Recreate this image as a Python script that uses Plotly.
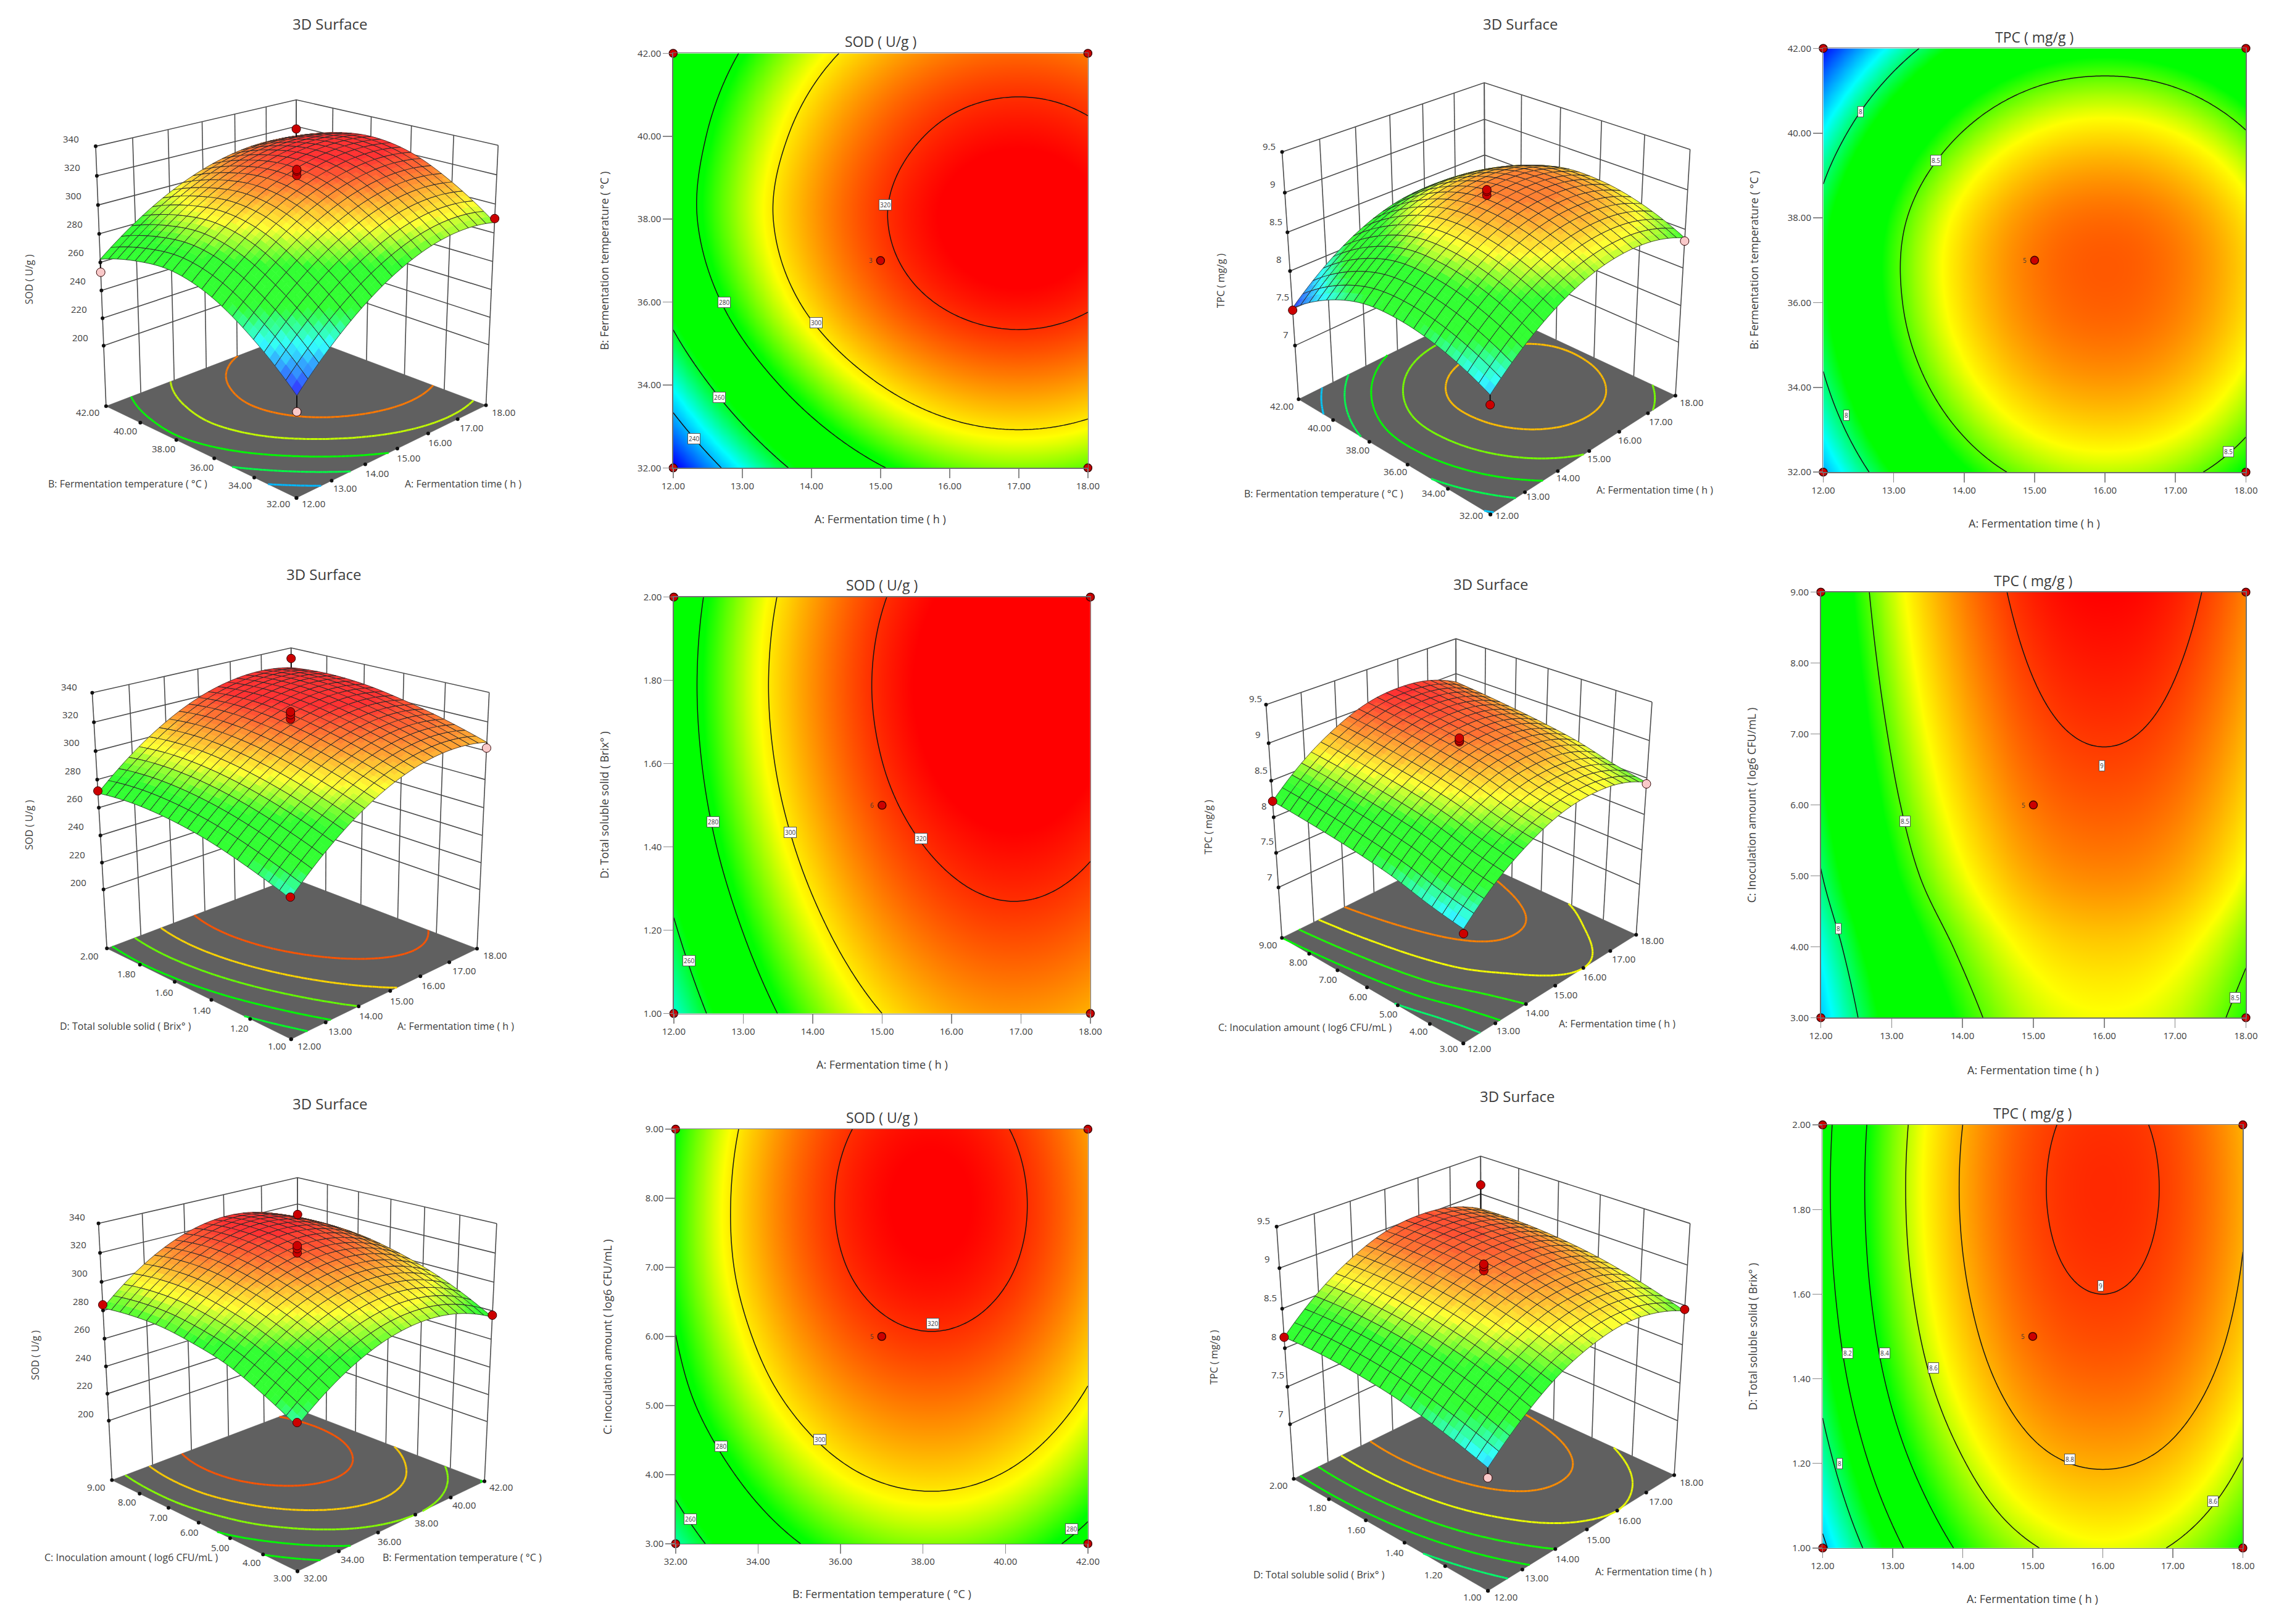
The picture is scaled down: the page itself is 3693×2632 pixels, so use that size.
import numpy as np
import plotly.graph_objects as go

W = 3693
H = 2632

A_TIME = [12, 13, 14, 15, 16, 17, 18]
B_TEMP = [32, 34, 36, 38, 40, 42]
C_INOC = [3, 4, 5, 6, 7, 8, 9]
D_BRIX = [1.0, 1.2, 1.4, 1.6, 1.8, 2.0]

SOD_TICKS = [200, 220, 240, 260, 280, 300, 320, 340]
TPC_TICKS = [7, 7.5, 8, 8.5, 9, 9.5]

SOD_AB = [
    [222.5, 246.8, 265.7, 279.2, 287.3, 290.0, 287.3],
    [247.5, 270.0, 287.5, 300.0, 307.5, 310.0, 307.5],
    [264.8, 286.0, 302.5, 314.2, 321.2, 323.6, 321.2],
    [272.5, 292.5, 308.0, 319.1, 325.8, 328.0, 325.8],
    [270.2, 289.6, 304.6, 315.4, 321.9, 324.0, 321.9],
    [262.2, 280.9, 295.4, 305.7, 311.9, 314.0, 311.9],
]
SOD_AD = [
    [249.0, 271.0, 288.0, 300.0, 307.0, 309.0, 306.0],
    [258.7, 280.3, 296.9, 308.7, 315.5, 317.5, 314.5],
    [266.4, 287.5, 303.8, 315.4, 322.0, 324.0, 321.0],
    [270.9, 292.0, 308.3, 319.9, 326.6, 328.5, 325.6],
    [272.4, 293.5, 309.8, 321.4, 328.0, 330.0, 327.0],
    [270.4, 291.5, 307.8, 319.4, 326.0, 328.0, 325.0],
]
SOD_BC = [
    [251.6, 272.4, 285.2, 290.0, 286.8, 275.6],
    [264.3, 285.0, 297.9, 302.7, 299.5, 288.3],
    [274.3, 294.7, 307.3, 312.0, 308.8, 297.8],
    [279.9, 301.3, 314.5, 319.5, 316.2, 304.6],
    [283.4, 305.6, 319.3, 324.5, 321.0, 309.0],
    [283.7, 306.6, 320.7, 326.0, 322.4, 310.1],
    [281.7, 304.6, 318.7, 324.0, 320.4, 308.1],
]
TPC_AB = [
    [7.74, 8.12, 8.39, 8.55, 8.60, 8.55, 8.39],
    [7.97, 8.35, 8.62, 8.78, 8.83, 8.78, 8.62],
    [8.08, 8.46, 8.73, 8.89, 8.94, 8.89, 8.73],
    [8.06, 8.44, 8.71, 8.87, 8.92, 8.87, 8.71],
    [7.86, 8.24, 8.51, 8.67, 8.72, 8.67, 8.51],
    [7.51, 7.89, 8.16, 8.32, 8.37, 8.32, 8.16],
]
TPC_AC = [
    [7.78, 8.17, 8.44, 8.61, 8.66, 8.61, 8.44],
    [7.87, 8.26, 8.53, 8.70, 8.75, 8.70, 8.53],
    [7.99, 8.38, 8.65, 8.82, 8.87, 8.82, 8.65],
    [8.07, 8.46, 8.73, 8.90, 8.95, 8.90, 8.73],
    [8.13, 8.52, 8.79, 8.96, 9.01, 8.96, 8.79],
    [8.18, 8.57, 8.84, 9.01, 9.06, 9.01, 8.84],
    [8.22, 8.61, 8.88, 9.05, 9.10, 9.05, 8.88],
]
TPC_AD = [
    [7.77, 8.15, 8.43, 8.59, 8.65, 8.59, 8.43],
    [7.93, 8.32, 8.59, 8.76, 8.81, 8.76, 8.59],
    [8.05, 8.44, 8.71, 8.88, 8.93, 8.88, 8.71],
    [8.12, 8.51, 8.78, 8.95, 9.00, 8.95, 8.78],
    [8.15, 8.54, 8.81, 8.98, 9.03, 8.98, 8.81],
    [8.14, 8.53, 8.80, 8.97, 9.02, 8.97, 8.80],
]

# design points: corners (lo,lo) (lo,hi) (hi,lo) (hi,hi), then the centre repeats
SOD_AB_CORNERS = [212, 253, 290, 318]
SOD_AB_CENTER = [320, 323, 324]
SOD_AD_CORNERS = [250, 272, 302, 332]
SOD_AD_CENTER = [322, 325, 327]
SOD_BC_CORNERS = [254, 284, 277, 312]
SOD_BC_CENTER = [320, 323, 325]
TPC_AB_CORNERS = [7.62, 7.48, 8.35, 8.15]
TPC_AB_CENTER = [8.95, 9.0, 9.02]
TPC_AC_CORNERS = [7.72, 8.22, 8.42, 8.85]
TPC_AC_CENTER = [9.0, 9.02, 9.05]
TPC_AD_CORNERS = [7.65, 8.14, 8.45, 9.12]
TPC_AD_CENTER = [8.95, 9.0, 9.03]

# contour levels drawn on the floor of each 3D view
SOD_AB_FLOOR = [240, 258, 276, 294, 312]
SOD_AD_FLOOR = [260, 274, 288, 302, 316]
SOD_BC_FLOOR = [264, 277, 290, 303, 316]
TPC_AB_FLOOR = [7.78, 8.03, 8.28, 8.53, 8.78]
TPC_AC_FLOOR = [8.0, 8.22, 8.44, 8.66, 8.88]
TPC_AD_FLOOR = [8.0, 8.22, 8.43, 8.65, 8.86]

SOD_AB_LABELS = [(15.07, 38.35, "320"), (14.07, 35.5, "300"), (12.74, 36.0, "280"), (12.67, 33.7, "260"), (12.3, 32.7, "240")]
SOD_AD_LABELS = [(15.56, 1.42, "320"), (13.68, 1.435, "300"), (12.57, 1.46, "280"), (12.22, 1.126, "260")]
SOD_BC_LABELS = [(38.24, 6.19, "320"), (35.5, 4.51, "300"), (33.1, 4.41, "280"), (32.36, 3.36, "260"), (41.6, 3.21, "280")]
TPC_AB_LABELS = [(12.53, 40.5, "8"), (13.6, 39.35, "8.5"), (12.33, 33.35, "8"), (17.75, 32.48, "8.5")]
TPC_AC_LABELS = [(13.19, 5.77, "8.5"), (15.97, 6.55, "9"), (12.25, 4.26, "8"), (17.85, 3.28, "8.5")]
TPC_AD_LABELS = [(12.36, 1.46, "8.2"), (12.89, 1.46, "8.4"), (13.58, 1.425, "8.6"), (15.97, 1.62, "9"),
                 (15.53, 1.21, "8.8"), (12.24, 1.2, "8"), (17.57, 1.11, "8.6")]

A_TITLE = "A: Fermentation time ( h )"
B_TITLE = "B: Fermentation temperature ( °C )"
C_TITLE = "C: Inoculation amount ( log6 CFU/mL )"
D_TITLE = "D: Total soluble solid ( Brix° )"
SOD_TITLE = "SOD ( U/g )"
TPC_TITLE = "TPC ( mg/g )"

FONT = "Open Sans"
TEXT = "#3c3c3c"
RAMP = [(0, (0, 0, 255)), (0.22, (0, 255, 255)), (0.38, (0, 255, 0)), (0.57, (0, 255, 0)), (0.73, (255, 255, 0)), (1, (255, 0, 0))]
RAMP_CSS = [[s, "rgb(%d,%d,%d)" % c] for s, c in RAMP]
RED = "#cc0000"
PINK = "#f9c9c9"
FLOOR = "#606060"

SOD_STYLE = dict(cmin=224, cmax=325, zrange=(155, 340), zticks=SOD_TICKS)
TPC_STYLE = dict(cmin=7.5, cmax=9.1, zrange=(6.25, 9.5), zticks=TPC_TICKS)

# the box corners of each 3D view on the page: front, left, right (floor), then back, left, right (top)
panels = [
    dict(x=A_TIME, y=B_TEMP, z=SOD_AB, corners=SOD_AB_CORNERS, center=SOD_AB_CENTER, labels=SOD_AB_LABELS,
         xt=A_TITLE, yt=B_TITLE, zt="SOD ( U/g )", title=SOD_TITLE, style=SOD_STYLE, pink=[0, 1], count="3",
         levels=[240, 260, 280, 300, 320], floor=SOD_AB_FLOOR,
         box=(1083, 1762, 76, 753), title_y=56, xtitle_y=836, ytitle_x=970,
         view=[(465, 802), (155, 653), (777, 650), (465, 152), (138, 227), (797, 227)],
         xtick=((494, 811), (805, 662)), ytick=((436, 811), (124, 662)), ztick=((112, 540), (97, 216)),
         t3d=(521, 28), xt3d=(739, 779), yt3d=(190, 779), zt3d=(28, 445)),
    dict(x=A_TIME, y=B_TEMP, z=TPC_AB, corners=TPC_AB_CORNERS, center=TPC_AB_CENTER, labels=TPC_AB_LABELS,
         xt=A_TITLE, yt=B_TITLE, zt="TPC ( mg/g )", title=TPC_TITLE, style=TPC_STYLE, pink=[2], count="5",
         levels=[8, 8.5], floor=TPC_AB_FLOOR,
         box=(2966, 3658, 68, 760), title_y=49, xtitle_y=843, ytitle_x=2852,
         view=[(2421, 829), (2107, 641), (2724, 635), (2411, 124), (2080, 237), (2748, 233)],
         xtick=((2448, 830), (2750, 646)), ytick=((2390, 830), (2079, 652)), ztick=((2086, 535), (2059, 228)),
         t3d=(2470, 28), xt3d=(2690, 789), yt3d=(2148, 795), zt3d=(1979, 447)),
    dict(x=A_TIME, y=D_BRIX, z=SOD_AD, corners=SOD_AD_CORNERS, center=SOD_AD_CENTER, labels=SOD_AD_LABELS,
         xt=A_TITLE, yt=D_TITLE, zt="SOD ( U/g )", title=SOD_TITLE, style=SOD_STYLE, pink=[2], count="6",
         levels=[260, 280, 300, 320], floor=SOD_AD_FLOOR,
         box=(1084, 1766, 964, 1644), title_y=944, xtitle_y=1727, ytitle_x=970,
         view=[(457, 1686), (156, 1538), (762, 1538), (457, 1047), (132, 1120), (782, 1120)],
         xtick=((487, 1697), (791, 1549)), ytick=((434, 1697), (127, 1550)), ztick=((109, 1430), (94, 1110)),
         t3d=(511, 927), xt3d=(727, 1665), yt3d=(186, 1665), zt3d=(28, 1336)),
    dict(x=A_TIME, y=C_INOC, z=TPC_AC, corners=TPC_AC_CORNERS, center=TPC_AC_CENTER, labels=TPC_AC_LABELS,
         xt=A_TITLE, yt=C_TITLE, zt="TPC ( mg/g )", title=TPC_TITLE, style=TPC_STYLE, pink=[2], count="5",
         levels=[8, 8.5, 9], floor=TPC_AC_FLOOR,
         box=(2962, 3658, 956, 1651), title_y=937, xtitle_y=1736, ytitle_x=2848,
         view=[(2376, 1693), (2080, 1521), (2660, 1515), (2364, 1032), (2054, 1139), (2686, 1136)],
         xtick=((2403, 1701), (2686, 1525)), ytick=((2353, 1701), (2057, 1532)), ztick=((2060, 1421), (2036, 1130)),
         t3d=(2421, 943), xt3d=(2629, 1661), yt3d=(2118, 1667), zt3d=(1959, 1339)),
    dict(x=B_TEMP, y=C_INOC, z=SOD_BC, corners=SOD_BC_CORNERS, center=SOD_BC_CENTER, labels=SOD_BC_LABELS,
         xt=B_TITLE, yt=C_TITLE, zt="SOD ( U/g )", title=SOD_TITLE, style=SOD_STYLE, pink=[], count="5",
         levels=[260, 280, 300, 320], floor=SOD_BC_FLOOR,
         box=(1087, 1762, 1833, 2510), title_y=1814, xtitle_y=2592, ytitle_x=975,
         view=[(468, 2555), (164, 2406), (774, 2408), (468, 1912), (142, 1987), (794, 1987)],
         xtick=((497, 2565), (801, 2417)), ytick=((444, 2565), (138, 2417)), ztick=((121, 2297), (107, 1976)),
         t3d=(521, 1791), xt3d=(738, 2532), yt3d=(196, 2532), zt3d=(39, 2202)),
    dict(x=A_TIME, y=D_BRIX, z=TPC_AD, corners=TPC_AD_CORNERS, center=TPC_AD_CENTER, labels=TPC_AD_LABELS,
         xt=A_TITLE, yt=D_TITLE, zt="TPC ( mg/g )", title=TPC_TITLE, style=TPC_STYLE, pink=[0], count="5",
         levels=[7.8, 8, 8.2, 8.4, 8.6, 8.8, 9], floor=TPC_AD_FLOOR,
         box=(2965, 3653, 1826, 2517), title_y=1807, xtitle_y=2600, ytitle_x=2850,
         view=[(2417, 2587), (2099, 2404), (2722, 2398), (2405, 1877), (2071, 1992), (2748, 1987)],
         xtick=((2446, 2597), (2750, 2409)), ytick=((2392, 2597), (2074, 2414)), ztick=((2078, 2297), (2050, 1982)),
         t3d=(2465, 1779), xt3d=(2688, 2555), yt3d=(2141, 2560), zt3d=(1968, 2205)),
]

BOX_POINTS = [(0, 0, 0), (0, 1, 0), (1, 0, 0), (1, 1, 1), (0, 1, 1), (1, 0, 1)]


def resample(v, count):
    # Catmull-Rom through the read values, only to draw them smoothly
    v = list(v)
    p = [3 * v[0] - 3 * v[1] + v[2]] + v + [3 * v[-1] - 3 * v[-2] + v[-3]]
    out = []
    for s in np.linspace(0, len(v) - 1, count):
        i = min(int(s), len(v) - 2)
        t = s - i
        a, b, c, d = p[i], p[i + 1], p[i + 2], p[i + 3]
        out.append(0.5 * (2 * b + (c - a) * t + (2 * a - 5 * b + 4 * c - d) * t ** 2 + (3 * b - a - 3 * c + d) * t ** 3))
    return out


def refine(grid, count):
    rows = np.array([resample(r, count) for r in grid])
    return np.array([resample(rows[:, j], count) for j in range(count)]).T


def camera_for(view):
    # perspective matrix that puts the unit box on the corners seen in the picture
    rows = []
    for (X, Y, Z), (u, v) in zip(BOX_POINTS, view):
        u, v = u / 1000, v / 1000
        rows.append([X, Y, Z, 1, 0, 0, 0, 0, -u * X, -u * Y, -u * Z, -u])
        rows.append([0, 0, 0, 0, X, Y, Z, 1, -v * X, -v * Y, -v * Z, -v])
    return np.linalg.svd(np.array(rows))[2][-1].reshape(3, 4)


def project(cam, X, Y, Z):
    h = cam @ np.array([X, Y, Z, 1.0])
    return 1000 * h[0] / h[2], 1000 * h[1] / h[2]


def ramp_color(frac, whiten=0.0):
    frac = min(max(frac, 0), 1)
    for (s0, c0), (s1, c1) in zip(RAMP, RAMP[1:]):
        if frac <= s1:
            t = (frac - s0) / (s1 - s0)
            rgb = [c0[k] + (c1[k] - c0[k]) * t for k in range(3)]
            break
    rgb = [c + (255 - c) * whiten for c in rgb]
    return "rgb(%d,%d,%d)" % tuple(rgb)


def iso_segments(fine, level):
    # marching squares on the refined grid, in box coordinates
    n = fine.shape[0] - 1
    xs, ys = [], []
    for j in range(n):
        for i in range(n):
            a, b, c, d = fine[j, i], fine[j, i + 1], fine[j + 1, i + 1], fine[j + 1, i]
            cut = []
            if (a < level) != (b < level):
                cut.append(((i + (level - a) / (b - a)) / n, j / n))
            if (b < level) != (c < level):
                cut.append(((i + 1) / n, (j + (level - b) / (c - b)) / n))
            if (d < level) != (c < level):
                cut.append(((i + (level - d) / (c - d)) / n, (j + 1) / n))
            if (a < level) != (d < level):
                cut.append((i / n, (j + (level - a) / (d - a)) / n))
            for k in range(0, len(cut) - 1, 2):
                xs += [cut[k][0], cut[k + 1][0], None]
                ys += [cut[k][1], cut[k + 1][1], None]
    return xs, ys


fig = go.Figure()
layout = {}
annotations = []


def note(px, py, text, size, angle=0):
    annotations.append(dict(x=px / W, y=1 - py / H, xref="paper", yref="paper", text=text, showarrow=False,
                            xanchor="center", yanchor="middle", textangle=angle,
                            font=dict(family=FONT, size=size, color=TEXT)))


def tick_notes(ends, texts, size=15):
    (xa0, ya0), (xa1, ya1) = ends
    n = len(texts) - 1
    for k, t in enumerate(texts):
        note(xa0 + (xa1 - xa0) * k / n, ya0 + (ya1 - ya0) * k / n, t, size)


def page_lines(xs, ys, color, width):
    fig.add_trace(go.Scatter(x=xs, y=ys, xaxis="x7", yaxis="y7", mode="lines", hoverinfo="skip", showlegend=False,
                             line=dict(color=color, width=width, simplify=False)))


def page_fill(xs, ys, color):
    fig.add_trace(go.Scatter(x=xs, y=ys, xaxis="x7", yaxis="y7", mode="lines", fill="toself", fillcolor=color,
                             hoverinfo="skip", showlegend=False, line=dict(color=color, width=0.6, simplify=False)))


def page_marks(xs, ys, colors, size, line_width=1):
    fig.add_trace(go.Scatter(x=xs, y=ys, xaxis="x7", yaxis="y7", mode="markers", hoverinfo="skip", showlegend=False,
                             marker=dict(size=size, color=colors, line=dict(color="#300000", width=line_width))))


def draw_view(p):
    st = p["style"]
    cam = camera_for(p["view"])
    zlo, zhi = st["zrange"]
    height = lambda value: (value - zlo) / (zhi - zlo)
    span = st["cmax"] - st["cmin"]
    nx, ny = len(p["x"]), len(p["y"])

    def path(points):
        xs, ys = [], []
        for X, Y, Z in points:
            u, v = project(cam, X, Y, Z)
            xs.append(u)
            ys.append(v)
        return xs, ys

    # floor and its contours
    fx, fy = path([(0, 0, 0), (1, 0, 0), (1, 1, 0), (0, 1, 0), (0, 0, 0)])
    page_fill(fx, fy, FLOOR)
    contour_grid = refine(p["z"], 101)
    for level in p["floor"]:
        xs, ys = iso_segments(contour_grid, level)
        us, vs = [], []
        for a, b in zip(xs, ys):
            if a is None:
                us.append(None)
                vs.append(None)
            else:
                u, v = project(cam, a, b, 0)
                us.append(u)
                vs.append(v)
        page_lines(us, vs, ramp_color((level - st["cmin"]) / span), 3)

    # walls
    wx, wy = [], []
    for value in st["zticks"]:
        a, b = path([(0, 1, height(value)), (1, 1, height(value)), (1, 0, height(value))])
        wx += a + [None]
        wy += b + [None]
    for k in range(nx):
        a, b = path([(k / (nx - 1), 1, 0), (k / (nx - 1), 1, 1)])
        wx += a + [None]
        wy += b + [None]
    for k in range(ny):
        a, b = path([(1, k / (ny - 1), 0), (1, k / (ny - 1), 1)])
        wx += a + [None]
        wy += b + [None]
    page_lines(wx, wy, "#4c4c4c", 1.6)

    # tick dots along the front edges and the left upright
    dx, dy = [], []
    for k in range(nx):
        a, b = project(cam, k / (nx - 1), 0, 0)
        dx.append(a)
        dy.append(b)
    for k in range(ny):
        a, b = project(cam, 0, k / (ny - 1), 0)
        dx.append(a)
        dy.append(b)
    for value in st["zticks"]:
        a, b = project(cam, 0, 1, height(value))
        dx.append(a)
        dy.append(b)
    page_marks(dx, dy, "#111111", 6, 0)

    # surface: back to front in depth bands, each band one trace per colour
    cells = 20
    nodes = refine(p["z"], 2 * cells + 1)
    nn = 2 * cells
    uv = np.empty((nn + 1, nn + 1, 2))
    for j in range(nn + 1):
        for i in range(nn + 1):
            uv[j, i] = project(cam, i / nn, j / nn, height(nodes[j, i]))
    bands = {}
    for j in range(cells):
        for i in range(cells):
            depth = i + j
            bands.setdefault((depth - 20) // 3 if depth >= 20 else -1, []).append((i, j))
    for key in sorted(bands, reverse=True):
        fills = {}
        lx, ly = [], []
        for i, j in bands[key]:
            for b in range(2):
                for a in range(2):
                    i0, j0 = 2 * i + a, 2 * j + b
                    quad = [(j0, i0), (j0, i0 + 1), (j0 + 1, i0 + 1), (j0 + 1, i0)]
                    mean = sum(nodes[q] for q in quad) / 4
                    shade = round((mean - st["cmin"]) / span * 48) / 48
                    bucket = fills.setdefault(shade, ([], []))
                    for q in quad + quad[:1]:
                        bucket[0].append(uv[q][0])
                        bucket[1].append(uv[q][1])
                    bucket[0].append(None)
                    bucket[1].append(None)
            outline = [(2 * j, 2 * i), (2 * j, 2 * i + 1), (2 * j, 2 * i + 2), (2 * j + 1, 2 * i + 2),
                       (2 * j + 2, 2 * i + 2), (2 * j + 2, 2 * i + 1), (2 * j + 2, 2 * i), (2 * j + 1, 2 * i),
                       (2 * j, 2 * i)]
            for q in outline:
                lx.append(uv[q][0])
                ly.append(uv[q][1])
            lx.append(None)
            ly.append(None)
        for shade, (us, vs) in fills.items():
            page_fill(us, vs, ramp_color(shade, 0.2))
        page_lines(lx, ly, "#2a2a2a", 0.8)

    # design points with their drop lines to the surface corners
    cx = 37 if p["x"] is B_TEMP else (p["x"][0] + p["x"][-1]) / 2
    cy = (p["y"][0] + p["y"][-1]) / 2
    corner_xy = [(0, 0), (0, 1), (1, 0), (1, 1)]
    surf_corner = [p["z"][0][0], p["z"][-1][0], p["z"][0][-1], p["z"][-1][-1]]
    mx, my, mc = [], [], []
    for k, ((X, Y), zm, zs) in enumerate(zip(corner_xy, p["corners"], surf_corner)):
        if k == 3 and zm < zs:
            continue
        a, b = path([(X, Y, height(zm)), (X, Y, height(zs))])
        page_lines(a, b, "#111111", 2)
        mx.append(a[0])
        my.append(b[0])
        mc.append(PINK if k in p["pink"] else RED)
    X = (cx - p["x"][0]) / (p["x"][-1] - p["x"][0])
    Y = (cy - p["y"][0]) / (p["y"][-1] - p["y"][0])
    for zm in p["center"]:
        a, b = project(cam, X, Y, height(zm))
        mx.append(a)
        my.append(b)
        mc.append(RED)
    page_marks(mx, my, mc, 14)


for i, p in enumerate(panels, start=1):
    st = p["style"]
    xlo, xhi = p["x"][0], p["x"][-1]
    ylo, yhi = p["y"][0], p["y"][-1]
    cx, cy = (xlo + xhi) / 2, (ylo + yhi) / 2
    if p["x"] is B_TEMP:
        cx = 37

    draw_view(p)
    note(*p["t3d"], "3D Surface", 24)
    note(*p["xt3d"], p["xt"], 16)
    note(*p["yt3d"], p["yt"], 16)
    note(*p["zt3d"], p["zt"], 16, -90)
    tick_notes(p["xtick"], [f"{v:.2f}" for v in p["x"]])
    tick_notes(p["ytick"], [f"{v:.2f}" for v in p["y"]])
    tick_notes(p["ztick"], [f"{v:g}" for v in st["zticks"]])

    # 2D contour plot of the same grid
    x0, x1, y0, y1 = p["box"]
    xa, ya = f"x{i}", f"y{i}"
    fine_z = refine(p["z"], 121)
    fine_x = list(np.linspace(xlo, xhi, 121))
    fine_y = list(np.linspace(ylo, yhi, 121))
    fig.add_trace(go.Heatmap(x=fine_x, y=fine_y, z=fine_z.tolist(), xaxis=xa, yaxis=ya, colorscale=RAMP_CSS,
                             zmin=st["cmin"], zmax=st["cmax"], zsmooth="best", showscale=False, hoverinfo="skip"))
    for level in p["levels"]:
        fig.add_trace(go.Contour(x=fine_x, y=fine_y, z=fine_z.tolist(), xaxis=xa, yaxis=ya, showscale=False,
                                 hoverinfo="skip", contours=dict(coloring="none", start=level, end=level, size=1),
                                 line=dict(color="#141414", width=1.5, smoothing=1)))
    fig.add_trace(go.Scatter(x=[xlo, xlo, xhi, xhi, cx], y=[ylo, yhi, ylo, yhi, cy], xaxis=xa, yaxis=ya, mode="markers",
                             cliponaxis=False, hoverinfo="skip", showlegend=False,
                             marker=dict(size=13, color=RED, line=dict(color="#400000", width=1.5))))
    axis2d = dict(ticks="outside", ticklen=15, tickcolor="#8a8a8a", tickwidth=1.5, showgrid=False, zeroline=False,
                  showline=True, linecolor="#707070", linewidth=1.5, mirror=True, tickformat=".2f",
                  tickfont=dict(family=FONT, size=15, color=TEXT))
    layout[f"xaxis{i}"] = dict(axis2d, domain=[x0 / W, x1 / W], range=[xlo, xhi], tickvals=p["x"], anchor=ya)
    layout[f"yaxis{i}"] = dict(axis2d, domain=[1 - y1 / H, 1 - y0 / H], range=[ylo, yhi], tickvals=p["y"], anchor=xa)
    note((x0 + x1) / 2, p["title_y"], p["title"], 23)
    note((x0 + x1) / 2, p["xtitle_y"], p["xt"], 18)
    note(p["ytitle_x"], (y0 + y1) / 2, p["yt"], 18, -90)

    # boxed contour labels and the replicate count beside the centre point
    for lx, ly, lt in p["labels"]:
        annotations.append(dict(x=lx, y=ly, xref=xa, yref=ya, text=lt, showarrow=False, bgcolor="white",
                                bordercolor="#555555", borderwidth=1, borderpad=1,
                                font=dict(family=FONT, size=10, color=TEXT)))
    annotations.append(dict(x=cx, y=cy, xref=xa, yref=ya, text=p["count"], showarrow=False, xshift=-16,
                            font=dict(family=FONT, size=10, color=TEXT)))

# page-sized axis that carries the projected 3D views: six gl3d scenes do not finish loading here
layout["xaxis7"] = dict(domain=[0, 1], range=[0, W], visible=False, anchor="y7")
layout["yaxis7"] = dict(domain=[0, 1], range=[H, 0], visible=False, anchor="x7")

fig.update_layout(width=W, height=H, margin=dict(l=0, r=0, t=0, b=0), showlegend=False,
                  paper_bgcolor="white", plot_bgcolor="rgba(0,0,0,0)", annotations=annotations, **layout)

fig.write_html("out.html", post_script="document.body.style.margin='0';", config=dict(staticPlot=True))
